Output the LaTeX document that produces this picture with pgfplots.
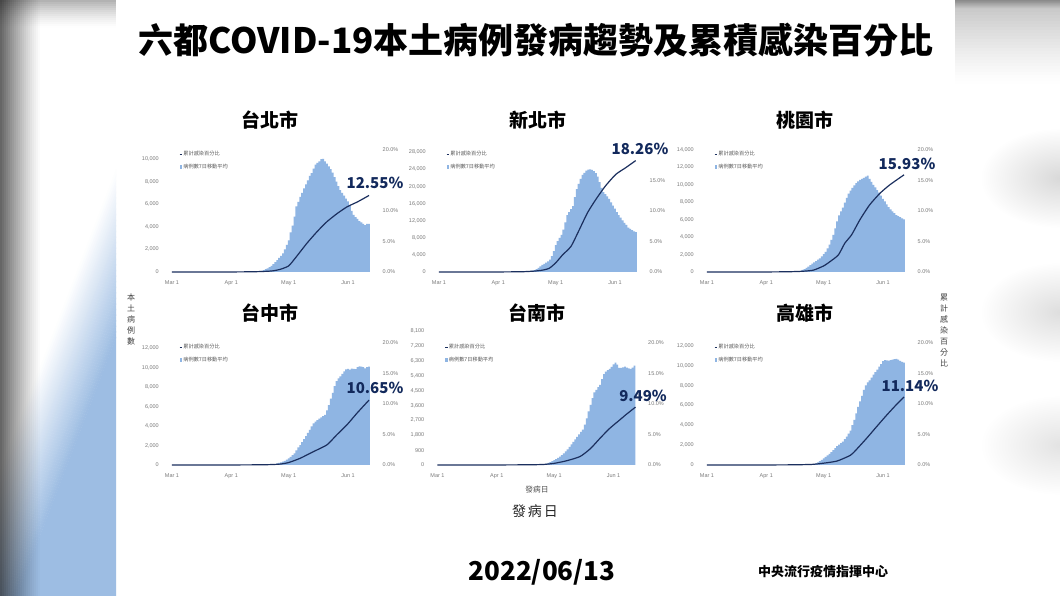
\documentclass[border=0pt]{standalone}
\usepackage{fontspec}
\usepackage{pgfplots}
\usepackage{pgfplotstable}
\pgfplotsset{compat=1.18}
\setmainfont{Liberation Sans}
\newfontfamily\cjk{Noto Sans CJK TC}
\definecolor{barblue}{HTML}{8FB5E3}
\definecolor{lineblue}{HTML}{1B2F5E}
\definecolor{navy}{HTML}{12295C}
\definecolor{ticktext}{HTML}{7A7A7A}
\definecolor{bandblue}{HTML}{9DBDE3}

% city tables: day, 7-day average of cases
\pgfplotstableread[row sep=\\]{day cases\\ 40 10\\ 41 15\\ 42 20\\ 43 30\\ 44 40\\ 45 60\\ 46 80\\ 47 110\\ 48 170\\ 49 250\\ 50 330\\ 51 430\\ 52 550\\ 53 700\\ 54 870\\ 55 1060\\ 56 1250\\ 57 1420\\ 58 1650\\ 59 2000\\ 60 2400\\ 61 2800\\ 62 3500\\ 63 4100\\ 64 4900\\ 65 5800\\ 66 6200\\ 67 6650\\ 68 7000\\ 69 7400\\ 70 7750\\ 71 8100\\ 72 8500\\ 73 8750\\ 74 9150\\ 75 9500\\ 76 9650\\ 77 9800\\ 78 9980\\ 79 10000\\ 80 9800\\ 81 9600\\ 82 9350\\ 83 9100\\ 84 8800\\ 85 8400\\ 86 8000\\ 87 7600\\ 88 7250\\ 89 7000\\ 90 6750\\ 91 6500\\ 92 6250\\ 93 5850\\ 94 5400\\ 95 5050\\ 96 4850\\ 97 4700\\ 98 4500\\ 99 4400\\ 100 4250\\ 101 4150\\ 102 4250\\ 103 4250\\}\tpeBars
\pgfplotstableread[row sep=\\]{day pct\\ 0 0\\ 30 0.01\\ 40 0.03\\ 45 0.06\\ 50 0.12\\ 53 0.2\\ 56.6 0.44\\ 61 1.0\\ 65 2.5\\ 70.5 4.7\\ 75.8 6.6\\ 81 8.25\\ 86.4 9.6\\ 91.6 10.7\\ 97 11.5\\ 103 12.55\\}\tpeLine

\pgfplotstableread[row sep=\\]{day cases\\ 40 20\\ 41 30\\ 42 40\\ 43 60\\ 44 80\\ 45 110\\ 46 150\\ 47 190\\ 48 240\\ 49 300\\ 50 450\\ 51 650\\ 52 950\\ 53 1300\\ 54 1640\\ 55 1900\\ 56 2200\\ 57 2500\\ 58 2900\\ 59 3700\\ 60 4900\\ 61 6300\\ 62 7200\\ 63 8000\\ 64 8700\\ 65 9900\\ 66 11600\\ 67 13300\\ 68 14000\\ 69 14700\\ 70 15400\\ 71 17500\\ 72 19400\\ 73 20600\\ 74 21800\\ 75 22700\\ 76 23200\\ 77 23700\\ 78 23950\\ 79 24000\\ 80 23900\\ 81 23600\\ 82 23100\\ 83 22300\\ 84 21000\\ 85 19700\\ 86 18700\\ 87 18200\\ 88 17700\\ 89 17100\\ 90 16300\\ 91 15500\\ 92 14800\\ 93 14000\\ 94 13300\\ 95 12700\\ 96 12100\\ 97 11500\\ 98 11000\\ 99 10400\\ 100 10100\\ 101 9800\\ 102 9500\\ 103 9300\\}\ntpBars
\pgfplotstableread[row sep=\\]{day pct\\ 0 0\\ 30 0.01\\ 40 0.03\\ 45 0.06\\ 50 0.15\\ 54 0.3\\ 57.6 0.6\\ 61 1.5\\ 64.6 2.8\\ 69 4.2\\ 73.3 6.9\\ 77.6 9.7\\ 82 11.9\\ 87 14.1\\ 92.4 16.0\\ 97.6 17.1\\ 102.8 18.26\\}\ntpLine

\pgfplotstableread[row sep=\\]{day cases\\ 40 5\\ 41 10\\ 42 15\\ 43 20\\ 44 30\\ 45 40\\ 46 50\\ 47 65\\ 48 85\\ 49 130\\ 50 230\\ 51 340\\ 52 470\\ 53 620\\ 54 800\\ 55 950\\ 56 1100\\ 57 1260\\ 58 1420\\ 59 1570\\ 60 1800\\ 61 2050\\ 62 2300\\ 63 2700\\ 64 3150\\ 65 3700\\ 66 4250\\ 67 5000\\ 68 5800\\ 69 6500\\ 70 6950\\ 71 7400\\ 72 7950\\ 73 8500\\ 74 9000\\ 75 9350\\ 76 9650\\ 77 9950\\ 78 10200\\ 79 10400\\ 80 10560\\ 81 10700\\ 82 10800\\ 83 10950\\ 84 11050\\ 85 10700\\ 86 10350\\ 87 10000\\ 88 9700\\ 89 9400\\ 90 9100\\ 91 8750\\ 92 8400\\ 93 8100\\ 94 7750\\ 95 7450\\ 96 7200\\ 97 6950\\ 98 6750\\ 99 6540\\ 100 6400\\ 101 6300\\ 102 6150\\ 103 6050\\}\tyBars
\pgfplotstableread[row sep=\\]{day pct\\ 0 0\\ 30 0.01\\ 40 0.03\\ 45 0.06\\ 50 0.12\\ 55.6 0.3\\ 61 1.0\\ 64.3 1.7\\ 68.7 2.8\\ 72 4.7\\ 75.6 6.1\\ 80 8.6\\ 85 11.0\\ 90.4 12.9\\ 95.6 14.3\\ 103 15.93\\}\tyLine

\pgfplotstableread[row sep=\\]{day cases\\ 50 20\\ 51 30\\ 52 50\\ 53 70\\ 54 100\\ 55 170\\ 56 220\\ 57 280\\ 58 340\\ 59 430\\ 60 560\\ 61 680\\ 62 830\\ 63 1000\\ 64 1200\\ 65 1500\\ 66 1800\\ 67 2050\\ 68 2350\\ 69 2650\\ 70 2950\\ 71 3300\\ 72 3600\\ 73 3950\\ 74 4270\\ 75 4450\\ 76 4600\\ 77 4750\\ 78 4880\\ 79 5000\\ 80 5130\\ 81 5600\\ 82 6150\\ 83 6800\\ 84 7400\\ 85 8100\\ 86 8600\\ 87 8890\\ 88 9100\\ 89 9350\\ 90 9600\\ 91 9800\\ 92 9850\\ 93 9780\\ 94 9880\\ 95 9850\\ 96 9820\\ 97 10050\\ 98 10120\\ 99 10100\\ 100 10030\\ 101 9900\\ 102 10050\\ 103 10100\\}\tcBars
\pgfplotstableread[row sep=\\]{day pct\\ 0 0\\ 30 0.01\\ 45 0.03\\ 52 0.07\\ 56.6 0.15\\ 61 0.4\\ 67 1.1\\ 74 2.2\\ 81 3.3\\ 86 4.9\\ 91.5 6.6\\ 96.7 8.5\\ 103 10.65\\}\tcLine

\pgfplotstableread[row sep=\\]{day cases\\ 50 5\\ 51 10\\ 52 15\\ 53 20\\ 54 30\\ 55 40\\ 56 60\\ 57 90\\ 58 130\\ 59 180\\ 60 240\\ 61 300\\ 62 360\\ 63 430\\ 64 500\\ 65 600\\ 66 700\\ 67 820\\ 68 950\\ 69 1100\\ 70 1250\\ 71 1400\\ 72 1550\\ 73 1700\\ 74 1850\\ 75 2000\\ 76 2150\\ 77 2450\\ 78 2830\\ 79 3250\\ 80 3640\\ 81 4050\\ 82 4400\\ 83 4550\\ 84 4720\\ 85 4850\\ 86 5200\\ 87 5500\\ 88 5650\\ 89 5750\\ 90 5820\\ 91 5950\\ 92 6100\\ 93 6200\\ 94 6080\\ 95 5880\\ 96 5880\\ 97 5920\\ 98 5960\\ 99 5900\\ 100 5850\\ 101 5820\\ 102 5900\\ 103 6020\\}\tnBars
\pgfplotstableread[row sep=\\]{day pct\\ 0 0\\ 30 0.01\\ 45 0.03\\ 55 0.08\\ 61 0.27\\ 67.6 0.7\\ 74.6 1.4\\ 80 2.7\\ 85 4.4\\ 90 6.0\\ 95.3 7.4\\ 98.7 8.3\\ 103.5 9.49\\}\tnLine

\pgfplotstableread[row sep=\\]{day cases\\ 50 5\\ 51 10\\ 52 15\\ 53 25\\ 54 40\\ 55 60\\ 56 100\\ 57 170\\ 58 270\\ 59 380\\ 60 520\\ 61 670\\ 62 810\\ 63 960\\ 64 1120\\ 65 1300\\ 66 1500\\ 67 1700\\ 68 1900\\ 69 2050\\ 70 2200\\ 71 2350\\ 72 2600\\ 73 2850\\ 74 3150\\ 75 3450\\ 76 4000\\ 77 4550\\ 78 5200\\ 79 5850\\ 80 6400\\ 81 6950\\ 82 7550\\ 83 8000\\ 84 8300\\ 85 8500\\ 86 8800\\ 87 9100\\ 88 9350\\ 89 9600\\ 90 9900\\ 91 10150\\ 92 10450\\ 93 10550\\ 94 10520\\ 95 10500\\ 96 10560\\ 97 10600\\ 98 10650\\ 99 10670\\ 100 10600\\ 101 10480\\ 102 10380\\ 103 10300\\}\khBars
\pgfplotstableread[row sep=\\]{day pct\\ 0 0\\ 30 0.01\\ 45 0.03\\ 55 0.1\\ 61 0.3\\ 68 0.65\\ 75 1.6\\ 78 2.5\\ 83.5 4.4\\ 88.7 6.3\\ 94 8.2\\ 99 9.9\\ 103 11.14\\}\khLine

\pgfplotsset{
  common/.style={
    scale only axis, width=199pt, clip=false,
    xmin=-0.5, xmax=103.5, ymin=0,
    axis line style={draw=none},
    major tick length=0pt,
    tick label style={font=\fontsize{5.5}{6}\selectfont, text=ticktext},
    /pgf/number format/assume math mode=true,
    /pgf/number format/1000 sep={,},
  },
}
% #1 left, #2 base, #3 bar-axis height, #4 ymax, #5 yticks, #6 bars, #7 legend y, #8 right ticks, #9 line
\newcommand{\city}[9]{%
  \begin{axis}[common, at={(#1pt,#2pt)}, anchor=south west, height=#3pt,
    ymax=#4, ytick={#5}, scaled y ticks=false,
    xtick={0,31,61,92}, xticklabels={Mar 1,Apr 1,May 1,Jun 1},
    axis x line*=bottom, axis y line*=left,
    xticklabel style={inner sep=0pt, yshift=-9pt},
    yticklabel style={inner sep=0pt, anchor=east, xshift=-12pt},
    legend cell align=left,
    legend style={draw=none, fill=none, inner sep=0pt, outer sep=0pt, anchor=north west,
      at={(axis description cs:0.04,#7)},
      font=\cjk\fontsize{5.2}{6}\selectfont, text=black!65, row sep=6pt,
      nodes={inner sep=0.4pt}},
    legend image code/.code={\fill[barblue] (0pt,-2pt) rectangle (2.8pt,2pt);},
  ]
    \addlegendimage{legend image code/.code={\draw[line width=1.2pt,lineblue] (0pt,0pt) -- (2.8pt,0pt);}}
    \addplot[ybar, bar width=0.94, fill=barblue, draw=none] table[x=day,y=cases]{#6};
    \legend{累計感染百分比,病例數7日移動平均}
  \end{axis}
  \begin{axis}[common, at={(#1pt,#2pt)}, anchor=south west, height=122pt,
    ymax=20, ytick={#8},
    axis x line=none, axis y line*=right, xtick=\empty,
    yticklabel style={inner sep=0pt, anchor=west, xshift=12.5pt},
    yticklabel={\pgfmathprintnumber[fixed,fixed zerofill,precision=1]{\tick}\%},
  ]
    \addplot[lineblue, line width=1.2pt, no markers, smooth, tension=0.35] table[x=day,y=pct]{#9};
  \end{axis}%
}

\begin{document}
\begin{tikzpicture}[x=1pt,y=1pt]
\useasboundingbox (0,0) rectangle (1060,596);
\fill[white] (0,0) rectangle (1060,596);

% left band
\begin{scope}
  \clip (0,0) rectangle (116,596);
  \begin{scope}[shift={(116,426)},rotate=-21]
    \foreach \i in {0,...,29}{
      \pgfmathsetmacro{\mix}{100*(\i+0.5)/30}
      \fill[bandblue!\mix!white] (2*\i,-700) rectangle (2*\i+2.3,700);
    }
    \fill[bandblue] (60,-700) rectangle (400,700);
  \end{scope}
  \foreach \i in {0,...,19}{
    \pgfmathsetmacro{\op}{0.6*(1-\i/20)^1.2}
    \fill[black,fill opacity=\op] (2*\i,0) rectangle (2*\i+2,596);
  }
  \foreach \i in {0,...,13}{
    \pgfmathsetmacro{\op}{0.3*(1-\i/14)^1.5}
    \fill[black,fill opacity=\op] (0,596-2*\i) rectangle (116,594-2*\i);
  }
\end{scope}

% right band
\begin{scope}
  \clip (955,0) rectangle (1060,596);
  \shade[inner color=black!15,outer color=white] (1060,418) ellipse (80 and 50);
  \shade[inner color=black!13,outer color=white] (1060,284) ellipse (80 and 50);
  \shade[inner color=black!11,outer color=white] (1060,151) ellipse (80 and 50);
  \foreach \i in {0,...,27}{
    \pgfmathsetmacro{\op}{0.24*(1-\i/28)^1.3}
    \fill[black,fill opacity=\op] (955,596-3*\i) rectangle (1060,593-3*\i);
  }
  \foreach \i in {0,...,7}{
    \pgfmathsetmacro{\op}{0.28*(1-\i/8)}
    \fill[black,fill opacity=\op] (955,596-\i) rectangle (1060,595-\i);
  }
\end{scope}

% titles
\node[font=\cjk\bfseries\fontsize{35}{40}\selectfont] at (536,556) {六都COVID-19本土病例發病趨勢及累積感染百分比};
\foreach \px/\py/\t in {270/476/台北市,538/476/新北市,805/476/桃園市,270/283/台中市,537/283/台南市,805/283/高雄市}{
  \node[font=\cjk\bfseries\fontsize{19}{22}\selectfont] at (\px,\py) {\t};
}

% charts
\city{171}{324}{113}{10000}{0,2000,...,10000}{\tpeBars}{1.071}{0,5,10,20}{\tpeLine}
\city{438}{324}{119.7}{28000}{0,4000,...,28000}{\ntpBars}{1.011}{0,5,10,15}{\ntpLine}
\city{706}{324}{122}{14000}{0,2000,...,14000}{\tyBars}{0.992}{0,5,10,15,20}{\tyLine}
\city{171}{131}{117}{12000}{0,2000,...,12000}{\tcBars}{1.034}{0,5,10,15,20}{\tcLine}
\city{436.5}{131}{133.7}{8100}{0,900,...,8100}{\tnBars}{0.905}{0,5,10,15,20}{\tnLine}
\city{706}{131}{119.3}{12000}{0,2000,...,12000}{\khBars}{1.014}{0,5,10,15,20}{\khLine}

% end values
\foreach \px/\py/\t in {375/413/12.55,640/447/18.26,907/432/15.93,375/208/10.65,643/200/9.49,910/210/11.14}{
  \node[font=\cjk\bfseries\fontsize{15}{18}\selectfont, text=navy] at (\px,\py) {\t\%};
}

% axis captions
\node[font=\cjk\fontsize{8}{11}\selectfont, align=center, text=black!75] at (131,277) {本\\土\\病\\例\\數};
\node[font=\cjk\fontsize{8}{10.9}\selectfont, align=center, text=black!75] at (944,265.5) {累\\計\\感\\染\\百\\分\\比};
\node[font=\cjk\fontsize{7.7}{9}\selectfont, text=black!70] at (537,106) {發病日};
\node[font=\cjk\fontsize{14}{16}\selectfont, text=black!85] at (535,84.5) {發\kern2pt 病\kern2pt 日};

% footer
\node[font=\cjk\bfseries\fontsize{26}{30}\selectfont] at (542,24) {2022/06/13};
\node[font=\cjk\bfseries\fontsize{13}{15}\selectfont] at (823,24) {中央流行疫情指揮中心};
\end{tikzpicture}
\end{document}
